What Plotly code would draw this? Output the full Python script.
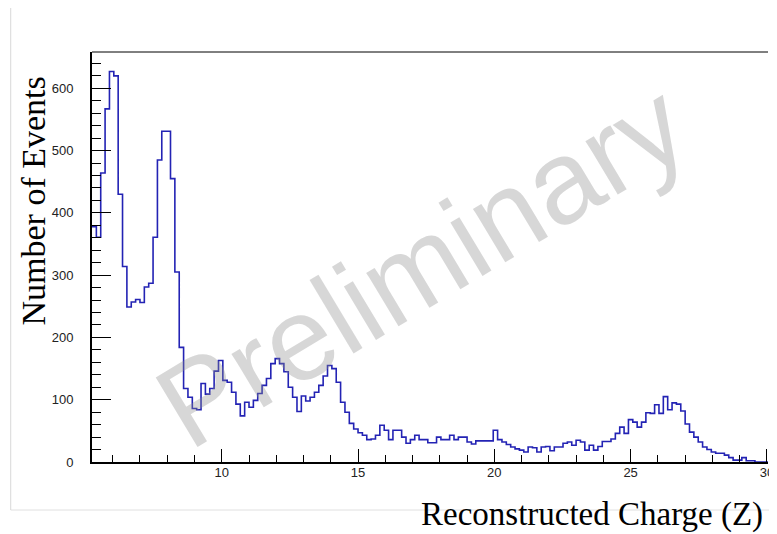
import numpy as np
import plotly.graph_objects as go

# Histogram definition
bin_start = 5.24
bin_width = 0.16
counts = [
    378, 361, 464, 567, 627, 620, 430, 314, 249, 257,
    261, 256, 281, 287, 361, 485, 531, 531, 455, 305,
    184, 118, 104, 86, 84, 126, 109, 118, 146, 163,
    131, 128, 112, 93, 74, 96, 88, 99, 110, 123,
    134, 158, 166, 158, 145, 120, 104, 81, 106, 98,
    104, 112, 123, 138, 155, 150, 128, 96, 80, 62,
    53, 47, 43, 36, 37, 43, 59, 51, 36, 51,
    51, 40, 30, 36, 43, 36, 36, 31, 31, 40,
    36, 36, 43, 36, 40, 40, 32, 29, 34, 34,
    34, 34, 51, 36, 32, 28, 24, 21, 19, 16,
    24, 23, 16, 24, 25, 18, 24, 24, 30, 32,
    27, 35, 32, 19, 27, 19, 25, 33, 33, 37,
    46, 56, 46, 68, 64, 56, 64, 79, 78, 92,
    78, 105, 84, 95, 93, 82, 61, 48, 40, 32,
    24, 20, 16, 14, 14, 11, 7, 3, 3, 7,
    2, 2, 0, 0, 0,
]
x_major_ticks = [10, 15, 20, 25, 30]
y_major_ticks = [0, 100, 200, 300, 400, 500, 600]

edges = bin_start + bin_width * np.arange(len(counts) + 1)
x_range = [edges[0], edges[-1]]
y_range = [0, 1.05 * max(counts)]

fig = go.Figure()
fig.add_trace(go.Scatter(
    x=edges, y=counts + [counts[-1]],
    mode="lines", line=dict(shape="hv", color="#2323b4", width=1.6),
    hoverinfo="skip", showlegend=False,
))

# The page body has an 8px margin: work in page pixels, shift by OFF.
OFF = 8
W, H = 777, 534
left, right, top, bottom = 92, 774, 52, 462  # plot frame in page pixels
ml, mt = left - OFF, top - OFF
mr = W - (right - OFF)
mb = H - (bottom - OFF)
pw, ph = right - left, bottom - top

def px(xp):
    return (xp - left) / pw

def py(yp):
    return (bottom - yp) / ph

fig.update_layout(
    width=W, height=H,
    margin=dict(l=ml, r=mr, t=mt, b=mb),
    paper_bgcolor="white", plot_bgcolor="white",
    font=dict(family="Liberation Sans", size=13, color="#222222"),
    xaxis=dict(
        range=x_range, tickvals=x_major_ticks, ticks="inside", ticklen=13,
        tickwidth=1, tickcolor="black", showline=True, linecolor="black",
        linewidth=2, showgrid=False, zeroline=False, ticklabelstandoff=-3,
        minor=dict(dtick=1, tick0=0, ticks="inside", ticklen=7, tickcolor="black", showgrid=False),
    ),
    yaxis=dict(
        range=y_range, tickvals=y_major_ticks, ticks="inside", ticklen=19,
        tickwidth=1, tickcolor="black", showline=True, linecolor="black",
        linewidth=2, showgrid=False, zeroline=False, ticklabelstandoff=14,
        minor=dict(dtick=20, tick0=0, ticks="inside", ticklen=9, tickcolor="black", showgrid=False),
    ),
    shapes=[
        dict(type="line", xref="paper", yref="paper", x0=0, x1=1, y0=1, y1=1,
             line=dict(color="black", width=1)),
        dict(type="line", xref="paper", yref="paper", x0=px(10), x1=px(10), y0=py(OFF), y1=py(510),
             line=dict(color="#d8d8d8", width=1)),
        dict(type="line", xref="paper", yref="paper", x0=px(10), x1=px(790), y0=py(510), y1=py(510),
             line=dict(color="#e0e0e0", width=1), layer="below"),
    ],
    annotations=[
        dict(text="Preliminary", xref="paper", yref="paper", x=px(424), y=py(265),
             xanchor="center", yanchor="middle", showarrow=False, textangle=-31,
             font=dict(family="Liberation Sans", size=118, color="rgba(140,140,140,0.35)")),
        dict(text="Number of Events", xref="paper", yref="paper", x=px(32), y=py(201),
             xanchor="center", yanchor="middle", showarrow=False, textangle=-90,
             font=dict(family="Liberation Serif", size=34, color="black")),
        dict(text="Reconstructed Charge (Z)", xref="paper", yref="paper", x=px(771), y=py(514),
             xanchor="right", yanchor="middle", showarrow=False,
             font=dict(family="Liberation Serif", size=33, color="black")),
    ],
)

fig.write_html("out.html")
